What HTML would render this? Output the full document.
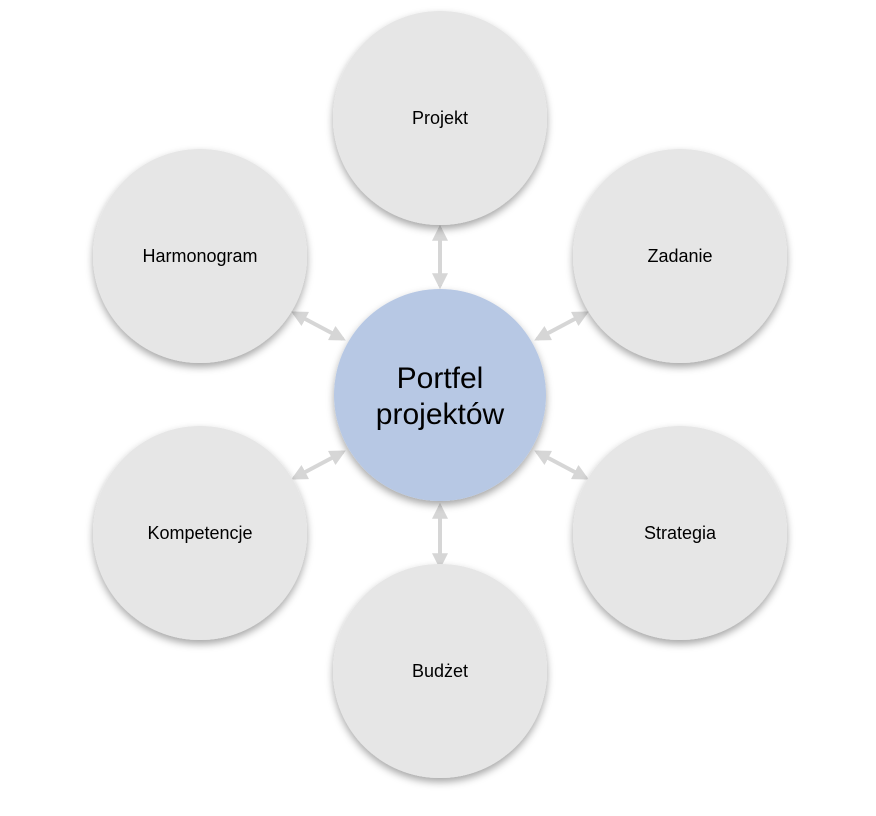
<!DOCTYPE html>
<html><head><meta charset="utf-8"><style>
body{margin:0;background:#fff;}
svg{display:block}
text{font-family:"Liberation Sans","DejaVu Sans",sans-serif;fill:#000;text-anchor:middle}
</style></head><body>
<svg width="876" height="816" viewBox="0 0 876 816">
<defs>
<filter id="sh" x="-20%" y="-20%" width="140%" height="150%">
<feDropShadow dx="0" dy="4" stdDeviation="4" flood-color="#000" flood-opacity="0.35"/>
</filter>
<marker id="a" viewBox="0 0 10 10" refX="8" refY="5" markerWidth="4" markerHeight="4" orient="auto-start-reverse">
<path d="M0,0 L10,5 L0,10 z" fill="#d6d6d6"/>
</marker>
</defs>
<g stroke="#d6d6d6" stroke-width="4" marker-start="url(#a)" marker-end="url(#a)">
<line x1="440" y1="228" x2="440" y2="286"/>
<line x1="440" y1="506" x2="440" y2="566"/>
<line x1="294" y1="313" x2="343" y2="339"/>
<line x1="586" y1="313" x2="537" y2="339"/>
<line x1="294" y1="478" x2="343" y2="452"/>
<line x1="586" y1="478" x2="537" y2="452"/>
</g>
<g fill="#e6e6e6" filter="url(#sh)">
<circle cx="440" cy="118" r="107"/>
<circle cx="680" cy="256" r="107"/>
<circle cx="200" cy="256" r="107"/>
<circle cx="200" cy="533" r="107"/>
<circle cx="680" cy="533" r="107"/>
<circle cx="440" cy="671" r="107"/>
<circle cx="440" cy="395" r="106" fill="#b7c8e4"/>
</g>
<g font-size="18">
<text x="440" y="124">Projekt</text>
<text x="680" y="262">Zadanie</text>
<text x="200" y="262">Harmonogram</text>
<text x="200" y="539">Kompetencje</text>
<text x="680" y="539">Strategia</text>
<text x="440" y="677">Budżet</text>
</g>
<text x="440" y="388" font-size="30">Portfel</text>
<text x="440" y="424" font-size="30">projektów</text>
</svg>
</body></html>
